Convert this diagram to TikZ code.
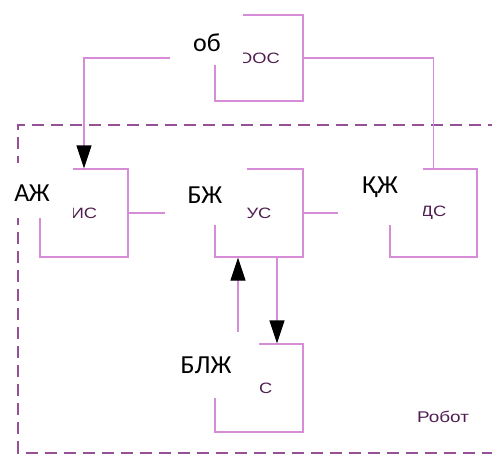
\documentclass[tikz,border=0pt]{standalone}
\usepackage{fontspec}
\usetikzlibrary{arrows.meta,calc}
\newfontfamily\lblfont{Carlito}
\newfontfamily\boxfont[FakeStretch=1.22]{Liberation Sans}
\definecolor{boxc}{RGB}{214,140,214}
\definecolor{dashc}{RGB}{150,80,150}
\definecolor{txtc}{RGB}{80,30,80}
\begin{document}
\begin{tikzpicture}[x=1pt,y=-1pt,
  blk/.style={draw=boxc,line width=1.3pt,minimum width=88pt,minimum height=88pt,inner sep=0pt,
    font=\boxfont\fontsize{15}{17}\selectfont,text=txtc},
  conn/.style={draw=boxc,line width=1.3pt},
  tip/.style={-{Triangle[length=23pt,width=15pt,color=black]}},
  lbl/.style={font=\lblfont\fontsize{26}{30}\selectfont,text=black,inner sep=0pt},
  cover/.style={fill=white,draw=none}]
\useasboundingbox (0,0) rectangle (492,453);
% robot boundary
\draw[dashc,line width=2pt,dash pattern=on 12pt off 7pt] (500,125) -- (18,125) -- (18,452.5) -- (500,452.5);
% blocks
\node[blk,minimum height=86pt] (ooc) at (259,58) {ООС};
\node[blk] (ic) at (84,213) {ИС};
\node[blk] (uc) at (259,213) {УС};
\node[blk,minimum width=87pt] (dc) at (433.5,213) {ДС};
\node[blk] (cc) at (259,388) {СС};
% connectors
\draw[conn,tip] (ooc.west) -| (ic.north);
\draw[conn] (ooc.east) -| (dc.north);
\draw[conn] (ic.east) -- (uc.west);
\draw[conn] (uc.east) -- (dc.west);
\draw[conn,tip] ([xshift=-21pt]cc.north) -- ([xshift=-21pt]uc.south);
\draw[conn,tip] ([xshift=18pt]uc.south) -- ([xshift=18pt]cc.north);
% label backgrounds
\fill[cover] (170,0) rectangle (243,65);
\fill[cover] (0,163) rectangle (73,218);
\fill[cover] (165,150) rectangle (247,225);
\fill[cover] (338,150) rectangle (423,225);
\fill[cover] (170,332) rectangle (259,398);
% labels
\node[lbl] (lob) at (207,43) {об};
\node[lbl] (laz) at (32,193) {АЖ};
\node[lbl] (lbz) at (205,195) {БЖ};
\node[lbl] (lkz) at (380,187) {ҚЖ};
\node[lbl] (lblz) at (206,365) {БЛЖ};
\node[font=\boxfont\fontsize{15.5}{18}\selectfont,text=txtc] (robot) at (443,417) {Робот};
\end{tikzpicture}
\end{document}
